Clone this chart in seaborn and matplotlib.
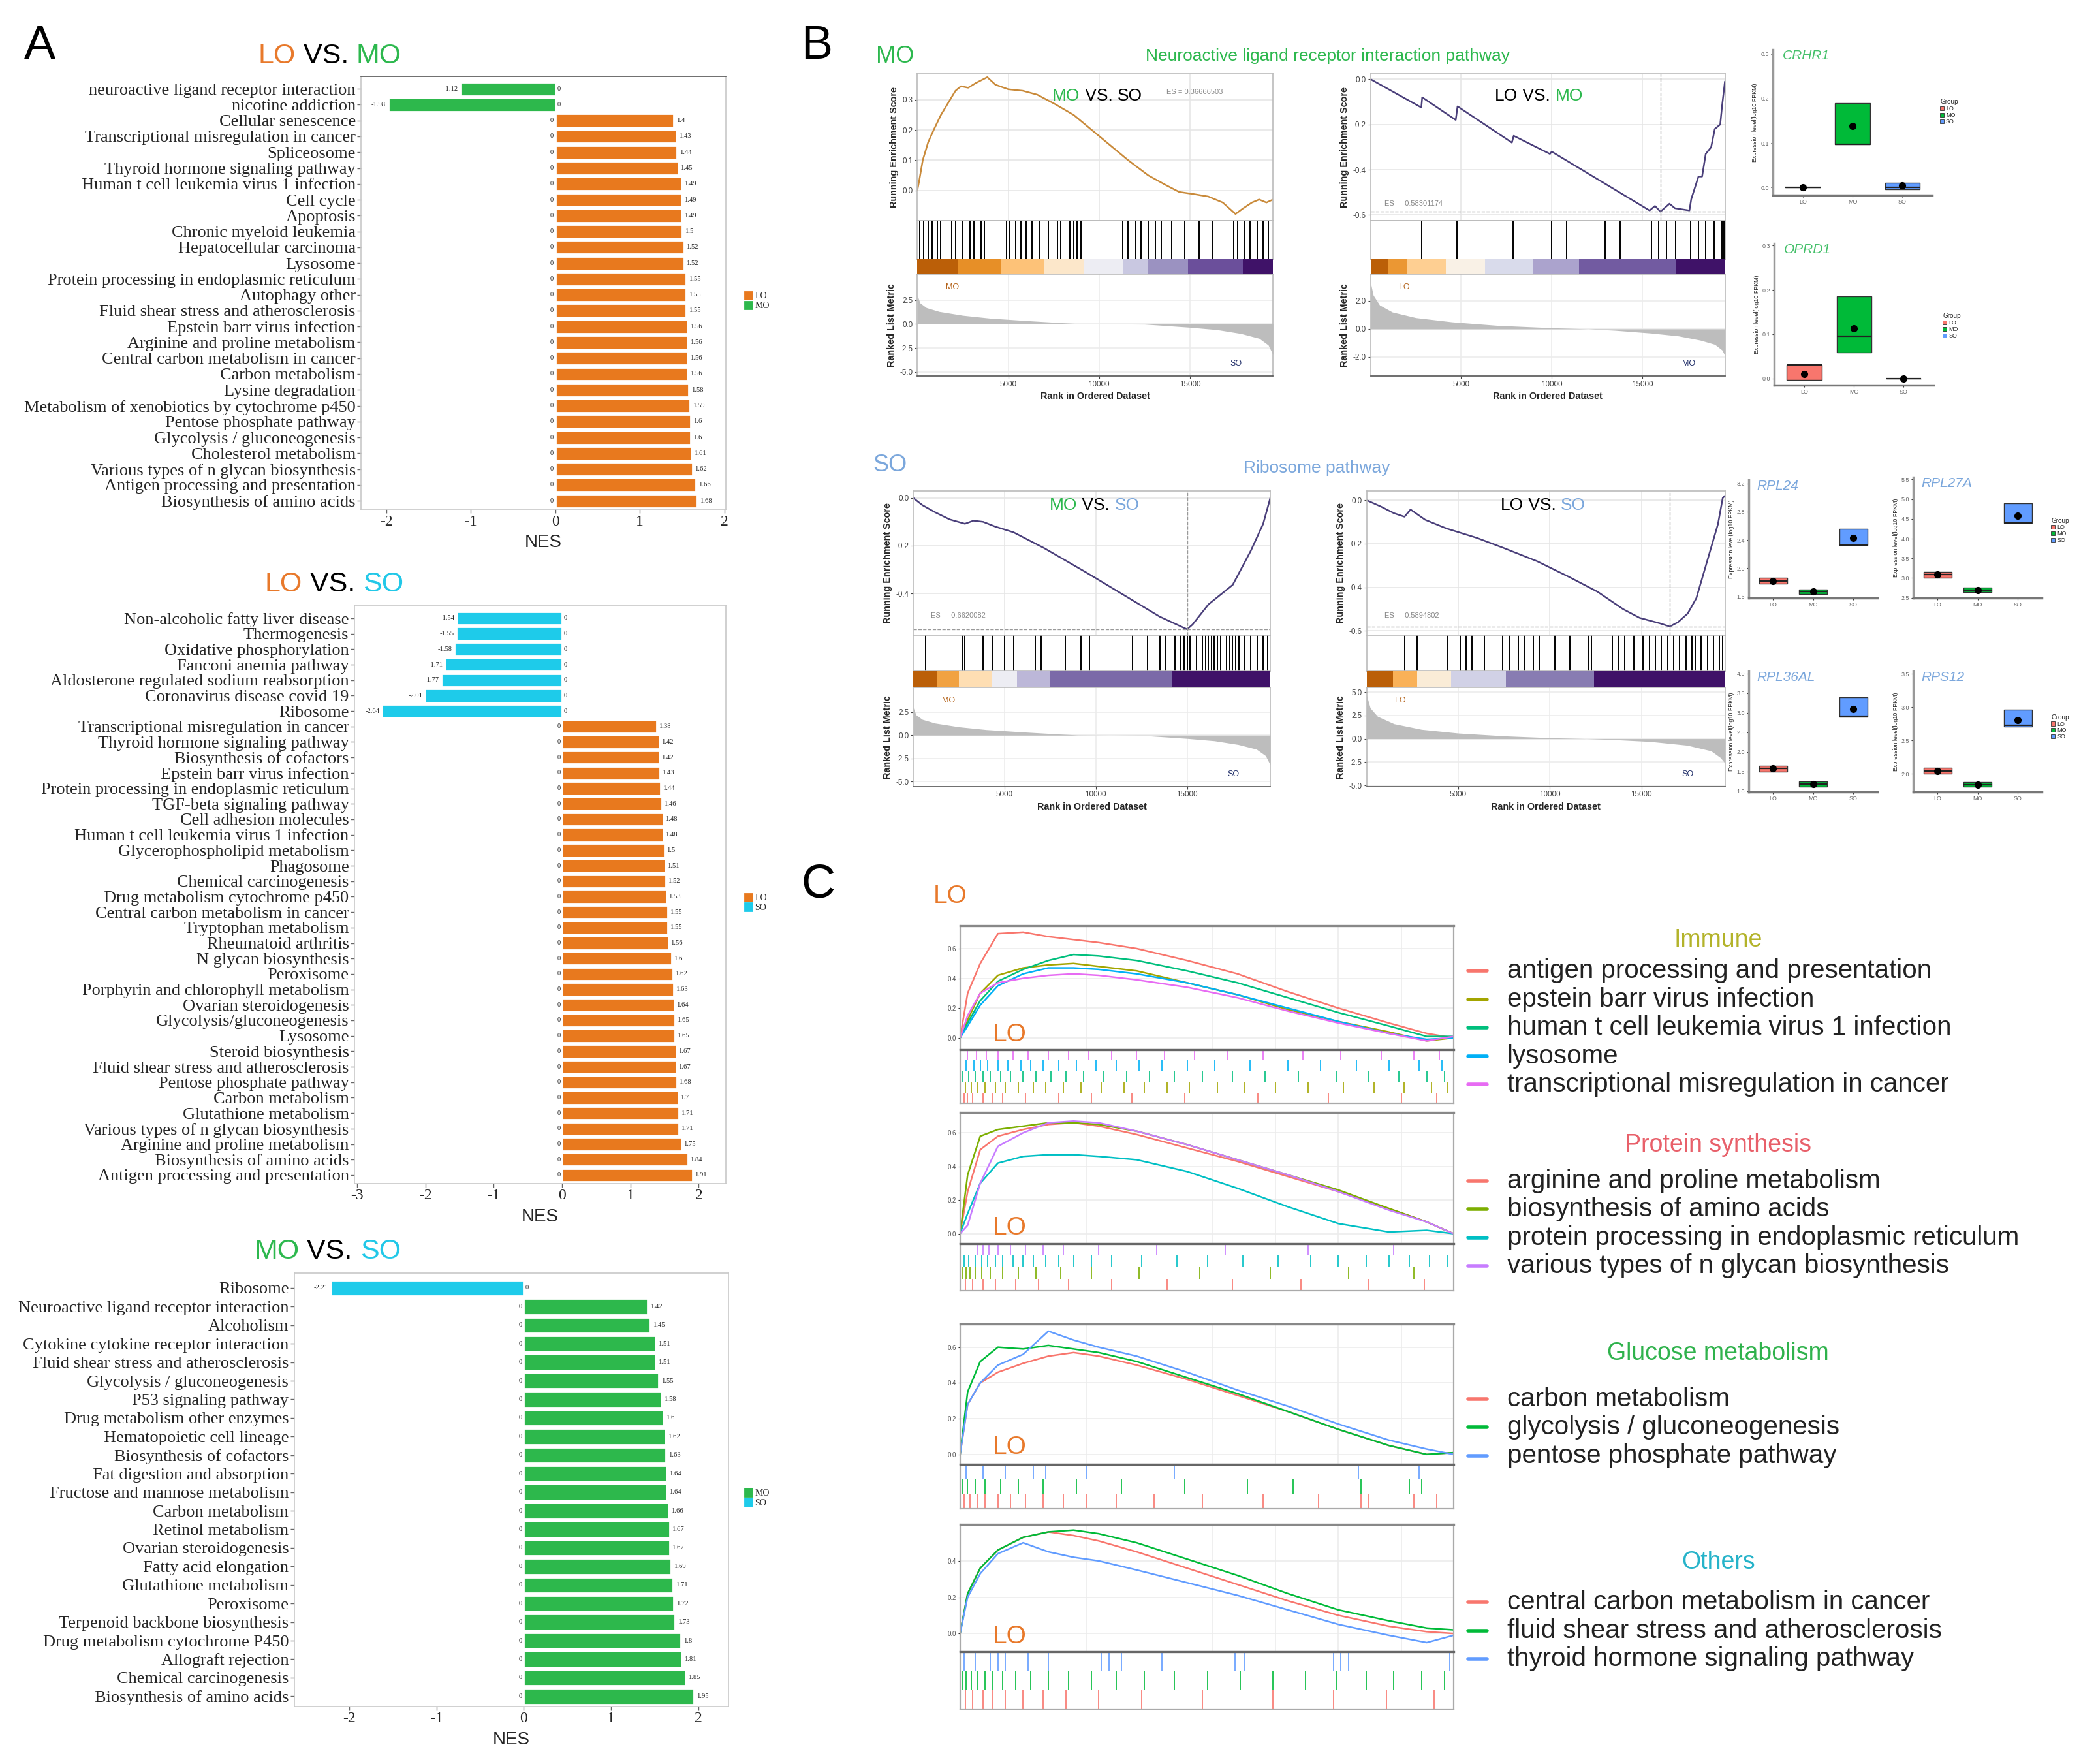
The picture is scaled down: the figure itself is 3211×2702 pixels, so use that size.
import numpy as np
import pandas as pd
import seaborn as sns
import matplotlib.pyplot as plt
from matplotlib.patches import Patch

#%% Panel A data: NES of enriched KEGG pathways
lo_mo_terms = ["neuroactive ligand receptor interaction", "nicotine addiction", "Cellular senescence",
               "Transcriptional misregulation in cancer", "Spliceosome", "Thyroid hormone signaling pathway",
               "Human t cell leukemia virus 1 infection", "Cell cycle", "Apoptosis", "Chronic myeloid leukemia",
               "Hepatocellular carcinoma", "Lysosome", "Protein processing in endoplasmic reticulum",
               "Autophagy other", "Fluid shear stress and atherosclerosis", "Epstein barr virus infection",
               "Arginine and proline metabolism", "Central carbon metabolism in cancer", "Carbon metabolism",
               "Lysine degradation", "Metabolism of xenobiotics by cytochrome p450", "Pentose phosphate pathway",
               "Glycolysis / gluconeogenesis", "Cholesterol metabolism", "Various types of n glycan biosynthesis",
               "Antigen processing and presentation", "Biosynthesis of amino acids"]
lo_mo_nes = [-1.12, -1.98, 1.4, 1.43, 1.44, 1.45, 1.49, 1.49, 1.49, 1.5, 1.52, 1.52, 1.55, 1.55, 1.55,
             1.56, 1.56, 1.56, 1.56, 1.58, 1.59, 1.6, 1.6, 1.61, 1.62, 1.66, 1.68]

lo_so_terms = ["Non-alcoholic fatty liver disease", "Thermogenesis", "Oxidative phosphorylation",
               "Fanconi anemia pathway", "Aldosterone regulated sodium reabsorption", "Coronavirus disease covid 19",
               "Ribosome", "Transcriptional misregulation in cancer", "Thyroid hormone signaling pathway",
               "Biosynthesis of cofactors", "Epstein barr virus infection",
               "Protein processing in endoplasmic reticulum", "TGF-beta signaling pathway", "Cell adhesion molecules",
               "Human t cell leukemia virus 1 infection", "Glycerophospholipid metabolism", "Phagosome",
               "Chemical carcinogenesis", "Drug metabolism cytochrome p450", "Central carbon metabolism in cancer",
               "Tryptophan metabolism", "Rheumatoid arthritis", "N glycan biosynthesis", "Peroxisome",
               "Porphyrin and chlorophyll metabolism", "Ovarian steroidogenesis", "Glycolysis/gluconeogenesis",
               "Lysosome", "Steroid biosynthesis", "Fluid shear stress and atherosclerosis",
               "Pentose phosphate pathway", "Carbon metabolism", "Glutathione metabolism",
               "Various types of n glycan biosynthesis", "Arginine and proline metabolism",
               "Biosynthesis of amino acids", "Antigen processing and presentation"]
lo_so_nes = [-1.54, -1.55, -1.58, -1.71, -1.77, -2.01, -2.64, 1.38, 1.42, 1.42, 1.43, 1.44, 1.46, 1.48,
             1.48, 1.5, 1.51, 1.52, 1.53, 1.55, 1.55, 1.56, 1.6, 1.62, 1.63, 1.64, 1.65, 1.65, 1.67, 1.67,
             1.68, 1.7, 1.71, 1.71, 1.75, 1.84, 1.91]

mo_so_terms = ["Ribosome", "Neuroactive ligand receptor interaction", "Alcoholism",
               "Cytokine cytokine receptor interaction", "Fluid shear stress and atherosclerosis",
               "Glycolysis / gluconeogenesis", "P53 signaling pathway", "Drug metabolism other enzymes",
               "Hematopoietic cell lineage", "Biosynthesis of cofactors", "Fat digestion and absorption",
               "Fructose and mannose metabolism", "Carbon metabolism", "Retinol metabolism",
               "Ovarian steroidogenesis", "Fatty acid elongation", "Glutathione metabolism", "Peroxisome",
               "Terpenoid backbone biosynthesis", "Drug metabolism cytochrome P450", "Allograft rejection",
               "Chemical carcinogenesis", "Biosynthesis of amino acids"]
mo_so_nes = [-2.21, 1.42, 1.45, 1.51, 1.51, 1.55, 1.58, 1.6, 1.62, 1.63, 1.64, 1.64, 1.66, 1.67, 1.67,
             1.69, 1.71, 1.72, 1.73, 1.8, 1.81, 1.85, 1.95]

#%% Panel B data: running enrichment scores
n_genes = 19560
neuro_mo_so_rank = [0, 100, 300, 600, 900, 1300, 1700, 2100, 2400, 2800, 3200, 3850, 4300, 5000, 5800, 6600,
                    7600, 8600, 9600, 10600, 11600, 12700, 13600, 14400, 15200, 16000, 16800, 17500, 17900,
                    18400, 18800, 19200, 19560]
neuro_mo_so_es = [0, 0.03, 0.10, 0.16, 0.20, 0.25, 0.29, 0.33, 0.345, 0.34, 0.355, 0.375, 0.35, 0.335, 0.33,
                  0.317, 0.285, 0.25, 0.20, 0.15, 0.10, 0.05, 0.02, -0.005, -0.012, -0.02, -0.04, -0.078,
                  -0.06, -0.04, -0.03, -0.04, -0.03]
neuro_mo_so_hits = [150, 350, 600, 800, 1100, 1300, 1900, 2100, 2500, 2900, 3100, 3500, 3700, 4900, 5100,
                    5400, 5700, 6000, 6300, 6700, 7200, 7700, 7900, 8400, 8600, 8800, 9000, 11300, 11600,
                    12000, 12300, 12700, 13100, 13400, 14000, 14700, 15500, 16200, 17400, 17600, 18000,
                    18300, 18700, 19000, 19300]

neuro_lo_mo_rank = [0, 2800, 2850, 4700, 4800, 7800, 7900, 9900, 10000, 15400, 15700, 16000, 16500, 16800,
                    17600, 17700, 18100, 18300, 18500, 18800, 19000, 19300, 19400, 19560]
neuro_lo_mo_es = [0, -0.125, -0.08, -0.18, -0.12, -0.28, -0.25, -0.33, -0.32, -0.58, -0.56, -0.585, -0.55,
                  -0.57, -0.58, -0.53, -0.43, -0.43, -0.33, -0.30, -0.22, -0.20, -0.12, -0.01]
neuro_lo_mo_hits = [2830, 4780, 7880, 9980, 10830, 12930, 13770, 15500, 15900, 16330, 16830, 17650, 18100,
                    18480, 18950, 19380, 19500]

ribo_mo_so_rank = [0, 500, 1200, 2000, 2830, 3300, 3830, 4500, 5500, 7170, 9500, 11500, 13500, 15000, 15300,
                   16170, 17500, 18500, 19170, 19560]
ribo_mo_so_es = [0, -0.03, -0.06, -0.09, -0.108, -0.095, -0.10, -0.12, -0.144, -0.21, -0.313, -0.405,
                 -0.497, -0.55, -0.53, -0.446, -0.364, -0.22, -0.108, 0.0]
ribo_mo_so_hits = [670, 2670, 2830, 3830, 4330, 5000, 5500, 6670, 7000, 8330, 9170, 9670, 12000, 12830,
                   13500, 13830, 14330, 14670, 14830, 15000, 15170, 15500, 15830, 16000, 16170, 16330, 16500,
                   16670, 16830, 17170, 17330, 17500, 17670, 17830, 18170, 18500, 18830, 19170, 19400]

ribo_lo_so_rank = [0, 800, 1500, 2070, 2400, 3200, 4370, 6020, 7500, 9300, 11000, 12600, 14000, 14900,
                   16000, 16550, 17000, 17530, 18000, 18520, 19180, 19440, 19560]
ribo_lo_so_es = [0, -0.03, -0.06, -0.076, -0.043, -0.09, -0.13, -0.173, -0.22, -0.28, -0.35, -0.42, -0.50,
                 -0.54, -0.565, -0.58, -0.56, -0.52, -0.45, -0.30, -0.11, 0.01, 0.02]
ribo_lo_so_hits = [2100, 2770, 4430, 5100, 5430, 5770, 6430, 7430, 7770, 8270, 8600, 9100, 9430, 10270,
                   11100, 12100, 12270, 13430, 13770, 14100, 14600, 15100, 15430, 15770, 16100, 16430,
                   16770, 17100, 17430, 17770, 17930, 18270, 18600, 18930, 19270, 19450]

# ranked list metric
metric_mo_so_rank = [0, 150, 500, 1200, 2500, 4000, 6000, 8000, 9000, 12500, 13500, 15000, 16500, 17800,
                     18800, 19300, 19560]
metric_mo_so_val = [3.0, 2.2, 1.7, 1.3, 0.9, 0.6, 0.35, 0.12, 0.02, -0.02, -0.15, -0.35, -0.6, -1.0, -1.5,
                    -2.2, -3.2]
metric_lo_mo_rank = [0, 150, 500, 1200, 2500, 4500, 7000, 10000, 12000, 13500, 15500, 17000, 18200, 19000,
                     19400, 19560]
metric_lo_mo_val = [3.3, 2.4, 1.7, 1.2, 0.8, 0.5, 0.25, 0.08, 0.0, -0.1, -0.3, -0.5, -0.8, -1.1, -1.5, -1.9]
metric_lo_so_rank = [0, 200, 600, 1500, 3000, 5000, 7500, 10000, 12000, 13500, 15500, 17500, 18800, 19300,
                     19560]
metric_lo_so_val = [4.7, 3.3, 2.4, 1.6, 1.0, 0.6, 0.3, 0.1, 0.0, -0.1, -0.3, -0.7, -1.3, -2.0, -2.6]

# colour band boundaries (ranks)
band_neuro_mo_so = [0, 2230, 4600, 6950, 9150, 11300, 12700, 14900, 17900, 19560]
band_neuro_lo_mo = [0, 1000, 2000, 4170, 6330, 9000, 11500, 16830, 19560]
band_ribo_mo_so = [0, 1330, 2500, 4330, 5670, 7500, 14170, 19560]
band_ribo_lo_so = [0, 1430, 2770, 4600, 7600, 12430, 19560]

# boxplot summaries (LO, MO, SO)
groups = ["LO", "MO", "SO"]
crhr1_q1, crhr1_med, crhr1_q3, crhr1_mean = [0, 0.097, -0.003], [0, 0.097, 0.0], [0, 0.189, 0.011], [0, 0.139, 0.005]
oprd1_q1, oprd1_med, oprd1_q3, oprd1_mean = [-0.003, 0.059, 0], [0.031, 0.096, 0], [0.031, 0.185, 0], [0.01, 0.113, 0]
rpl24_q1, rpl24_med, rpl24_q3, rpl24_mean = [1.78, 1.635, 2.33], [1.82, 1.667, 2.33], [1.86, 1.697, 2.56], [1.82, 1.67, 2.43]
rpl27a_q1, rpl27a_med, rpl27a_q3, rpl27a_mean = [3.0, 2.64, 4.4], [3.09, 2.7, 4.4], [3.16, 2.76, 4.9], [3.09, 2.7, 4.58]
rpl36al_q1, rpl36al_med, rpl36al_q3, rpl36al_mean = [1.49, 1.11, 2.9], [1.58, 1.175, 2.92], [1.65, 1.24, 3.4], [1.58, 1.175, 3.09]
rps12_q1, rps12_med, rps12_q3, rps12_mean = [2.0, 1.808, 2.71], [2.046, 1.838, 2.73], [2.088, 1.873, 2.96], [2.046, 1.838, 2.81]

#%% Panel C data: running ES of LO-enriched pathways on a shared rank grid
c_rank = [0, 300, 800, 1500, 2500, 3500, 4500, 5500, 7000, 9000, 11000, 13000, 15000, 17000, 18500, 19560]
immune_names = ["antigen processing and presentation", "epstein barr virus infection",
                "human t cell leukemia virus 1 infection", "lysosome", "transcriptional misregulation in cancer"]
antigen_es = [0, 0.30, 0.50, 0.70, 0.71, 0.68, 0.66, 0.64, 0.60, 0.52, 0.43, 0.31, 0.20, 0.10, 0.03, 0.0]
epstein_es = [0, 0.12, 0.30, 0.42, 0.47, 0.49, 0.50, 0.48, 0.45, 0.37, 0.29, 0.19, 0.11, 0.04, -0.02, 0.0]
htlv_es = [0, 0.10, 0.25, 0.38, 0.46, 0.52, 0.56, 0.55, 0.52, 0.45, 0.37, 0.27, 0.17, 0.08, 0.01, 0.01]
lysosome_es = [0, 0.08, 0.22, 0.35, 0.43, 0.47, 0.47, 0.46, 0.43, 0.37, 0.29, 0.20, 0.11, 0.03, -0.01, 0.0]
transcr_es = [0, 0.15, 0.30, 0.37, 0.40, 0.42, 0.43, 0.42, 0.39, 0.34, 0.27, 0.18, 0.10, 0.03, -0.02, 0.01]
antigen_hits = [150, 300, 500, 900, 1300, 1700, 2600, 3900, 5200, 6800, 8900, 11800, 14600, 17500, 18900]
epstein_hits = [200, 450, 700, 1000, 1400, 1800, 2300, 2900, 3400, 4100, 4800, 5600, 6500, 7300, 8200, 9100,
                10200, 11300, 12500, 13800, 15200, 16400, 17600, 18700, 19300]
htlv_hits = [100, 350, 600, 900, 1200, 1600, 2000, 2500, 3000, 3600, 4200, 4900, 5700, 6600, 7500, 8500,
             9600, 10800, 12100, 13400, 14900, 16200, 17400, 18500, 19200]
lysosome_hits = [250, 550, 800, 1100, 1500, 1900, 2400, 2800, 3300, 3900, 4600, 5400, 6200, 7100, 8000, 9000,
                 10100, 11500, 13000, 14300, 15700, 17000, 18200, 19100]
transcr_hits = [300, 650, 1050, 1500, 2100, 2700, 3500, 4300, 5100, 6000, 7000, 8100, 9300, 10600, 12000,
                13600, 15100, 16700, 18000, 19000]

protein_names = ["arginine and proline metabolism", "biosynthesis of amino acids",
                 "protein processing in endoplasmic reticulum", "various types of n glycan biosynthesis"]
arginine_es = [0, 0.25, 0.50, 0.58, 0.62, 0.65, 0.66, 0.64, 0.59, 0.51, 0.43, 0.34, 0.25, 0.15, 0.07, 0.0]
aa_biosyn_es = [0, 0.35, 0.58, 0.62, 0.64, 0.66, 0.66, 0.65, 0.61, 0.53, 0.44, 0.35, 0.26, 0.15, 0.07, 0.0]
er_proc_es = [0, 0.12, 0.30, 0.42, 0.46, 0.47, 0.47, 0.46, 0.44, 0.37, 0.27, 0.16, 0.06, 0.01, 0.02, 0.0]
nglycan_es = [0, 0.05, 0.30, 0.52, 0.60, 0.66, 0.67, 0.66, 0.61, 0.53, 0.44, 0.35, 0.25, 0.14, 0.07, 0.0]
arginine_hits = [200, 500, 900, 1400, 2200, 3100, 4300, 6000, 8200, 10800, 13500, 16200, 18400]
aa_biosyn_hits = [100, 250, 400, 600, 850, 1200, 1700, 2300, 3000, 4000, 5200, 7100, 9500, 12300, 15400, 18000]
er_proc_hits = [150, 350, 600, 850, 1100, 1400, 1700, 2100, 2500, 2900, 3400, 3900, 4500, 5200, 6000, 7200,
                8600, 9800, 11200, 12600, 13900, 15000, 16100, 17000, 17800, 18600, 19300]
nglycan_hits = [700, 900, 1150, 1500, 2000, 2600, 3300, 4100, 5500, 7800, 10500, 13800, 17200]

glucose_names = ["carbon metabolism", "glycolysis / gluconeogenesis", "pentose phosphate pathway"]
carbon_es = [0, 0.28, 0.40, 0.46, 0.51, 0.55, 0.57, 0.55, 0.50, 0.42, 0.33, 0.24, 0.14, 0.05, 0.0, 0.01]
glyco_es = [0, 0.35, 0.52, 0.60, 0.59, 0.61, 0.59, 0.57, 0.52, 0.43, 0.34, 0.24, 0.14, 0.05, 0.0, 0.01]
pentose_es = [0, 0.28, 0.40, 0.50, 0.56, 0.69, 0.64, 0.60, 0.55, 0.46, 0.36, 0.27, 0.17, 0.08, 0.03, 0.0]
carbon_hits = [150, 400, 700, 1000, 1500, 2000, 2600, 3300, 4100, 5000, 6200, 7700, 9600, 12000, 14200,
               15900, 16200, 18000, 18900]
glyco_hits = [100, 300, 600, 1000, 1600, 2300, 3300, 4600, 6400, 8900, 11400, 13200, 15900, 17800, 18300]
pentose_hits = [250, 900, 1800, 2900, 3400, 5000, 8500, 15800, 18200]

others_names = ["central carbon metabolism in cancer", "fluid shear stress and atherosclerosis",
                "thyroid hormone signaling pathway"]
central_es = [0, 0.22, 0.36, 0.46, 0.53, 0.56, 0.54, 0.51, 0.45, 0.36, 0.27, 0.18, 0.10, 0.04, 0.01, 0.0]
fluid_es = [0, 0.22, 0.36, 0.46, 0.53, 0.56, 0.57, 0.55, 0.50, 0.41, 0.32, 0.22, 0.13, 0.07, 0.03, 0.02]
thyroid_es = [0, 0.20, 0.33, 0.44, 0.50, 0.45, 0.42, 0.40, 0.35, 0.28, 0.21, 0.13, 0.05, -0.01, -0.05, -0.01]
central_hits = [200, 500, 900, 1300, 1800, 2500, 3300, 4200, 5500, 7200, 9600, 12400, 14800, 16900, 18800]
fluid_hits = [100, 250, 450, 700, 1000, 1300, 1700, 2200, 2800, 3500, 4300, 5200, 6200, 7300, 8500, 9800,
              11100, 12400, 13700, 14900, 16100, 17200, 18300, 19200]
thyroid_hits = [150, 600, 1200, 1500, 1800, 2700, 3500, 5600, 5900, 6400, 8000, 10900, 11300, 14800, 15100,
                15400, 19400]

#%% Style
sns.set_theme(style="white")
plt.rcParams['font.family'] = ['Liberation Sans', 'DejaVu Sans']
plt.rcParams['axes.unicode_minus'] = False

LO_C, MO_C, SO_C, SO_B = '#E8792B', '#2DB84E', '#22C8E8', '#7BA7DC'
bar_colors = {"LO": '#E8791E', "MO": '#2DB84C', "SO": '#1ECBEA'}
box_colors = ['#F8766D', '#00BA38', '#619CFF']
hue5 = ['#F8766D', '#A3A500', '#00BF7D', '#00B0F6', '#E76BF3']
hue4 = ['#F8766D', '#7CAE00', '#00BFC4', '#C77CFF']
hue3 = ['#F8766D', '#00BA38', '#619CFF']
band_cmap = plt.get_cmap('PuOr')

W, H = 1568, 1319
fig = plt.figure(figsize=(3212 / 200, 2702 / 200), dpi=200)


def rect(x0, y0, x1, y1):
    return [x0 / W, 1 - y1 / H, (x1 - x0) / W, (y1 - y0) / H]


def gray_spines(ax, color='#c8c8c8', lw=0.6):
    for s in ax.spines.values():
        s.set_color(color)
        s.set_linewidth(lw)


#%% Panel A
def nes_panel(r, terms, nes, up, down, xlim, xticks, legend_y):
    ax = fig.add_axes(rect(*r))
    df = pd.DataFrame({"term": terms, "NES": nes})
    df["group"] = np.where(df["NES"] > 0, up, down)
    sns.barplot(data=df, x="NES", y="term", hue="group", order=terms, palette=bar_colors,
                dodge=False, width=0.86, saturation=1, errorbar=None, legend=False, ax=ax)
    for i, v in enumerate(nes):
        if v < 0:
            ax.text(v - 0.03, i, f"{v:g}", ha='right', va='center', fontsize=3.8, family='Liberation Serif')
            ax.text(0.02, i, "0", ha='left', va='center', fontsize=3.8, family='Liberation Serif')
        else:
            ax.text(-0.02, i, "0", ha='right', va='center', fontsize=3.8, family='Liberation Serif')
            ax.text(v + 0.03, i, f"{v:g}", ha='left', va='center', fontsize=3.8, family='Liberation Serif')
    ax.set_xlim(xlim)
    ax.set_ylim(len(terms) - 0.45, -0.8)
    ax.set_xticks(xticks)
    ax.set_xticklabels([str(t) for t in xticks], family='Liberation Serif', fontsize=8.5)
    ax.set_yticks(range(len(terms)))
    ax.set_yticklabels(terms, family='Liberation Serif', fontsize=9.5)
    ax.tick_params(axis='both', left=True, bottom=True, length=2, width=0.5, pad=1, color='#666')
    ax.set_ylabel('')
    ax.set_xlabel('NES', fontsize=10, labelpad=3)
    gray_spines(ax)
    fig.legend(handles=[Patch(color=bar_colors[up], label=up), Patch(color=bar_colors[down], label=down)],
               loc='center left', bbox_to_anchor=(551 / W, 1 - legend_y / H), frameon=False,
               prop={'family': 'Liberation Serif', 'size': 5}, handlelength=0.8, handleheight=0.9,
               handletextpad=0.3, labelspacing=0.1)
    return ax


a1 = nes_panel((270, 57, 543, 381), lo_mo_terms, lo_mo_nes, "LO", "MO", (-2.3, 2.02), [-2, -1, 0, 1, 2], 225)
a1.spines['top'].set_color('#555')
nes_panel((265, 453, 543, 885), lo_so_terms, lo_so_nes, "LO", "SO", (-3.04, 2.4), [-3, -2, -1, 0, 1, 2], 675)
nes_panel((220, 952, 545, 1276), mo_so_terms, mo_so_nes, "MO", "SO", (-2.63, 2.35), [-2, -1, 0, 1, 2], 1120)


#%% Panel B: GSEA plots
def gsea_panel(x0, x1, ys, rank, es, hits, edges, m_rank, m_val, es_lim, es_ticks, m_lim, m_ticks,
               color, es_label, es_xy, m_labels, dashed):
    y_top, y_es, y_rug, y_band, y_bot = ys
    ax1 = fig.add_axes(rect(x0, y_top, x1, y_es))
    ax1.plot(rank, es, color=color, lw=0.9)
    if dashed:
        k = int(np.argmin(es))
        ax1.axvline(rank[k], ls='--', color='#999', lw=0.5)
        ax1.axhline(es[k], ls='--', color='#999', lw=0.5)
    ax1.set_xlim(0, n_genes)
    ax1.set_ylim(es_lim)
    ax1.set_yticks(es_ticks)
    ax1.set_yticklabels([f"{t:.1f}" for t in es_ticks], fontsize=4.2)
    ax1.set_xticks([5000, 10000, 15000])
    ax1.set_xticklabels([])
    ax1.grid(True, color='#e6e6e6', lw=0.6)
    ax1.tick_params(left=True, length=1.5, width=0.4, pad=1, colors='#444')
    ax1.set_ylabel('Running Enrichment Score', fontsize=5.2, fontweight='bold', labelpad=2)
    ax1.text(es_xy[0], es_xy[1], es_label, transform=ax1.transAxes, fontsize=4, color='#888')
    gray_spines(ax1, '#bbbbbb')

    ax2 = fig.add_axes(rect(x0, y_es, x1, y_rug))
    ax2.vlines(hits, 0, 1, color='black', lw=0.7)
    ax2.set_xlim(0, n_genes)
    ax2.set_ylim(0, 1)
    ax2.set_xticks([])
    ax2.set_yticks([])
    gray_spines(ax2, '#bbbbbb')

    ax3 = fig.add_axes(rect(x0, y_rug, x1, y_band))
    pos = np.linspace(0.12, 0.95, len(edges) - 1)
    for i in range(len(edges) - 1):
        ax3.axvspan(edges[i], edges[i + 1], color=band_cmap(pos[i]), lw=0)
    ax3.set_xlim(0, n_genes)
    ax3.axis('off')

    ax4 = fig.add_axes(rect(x0, y_band, x1, y_bot))
    ax4.fill_between(m_rank, 0, m_val, color='#bdbdbd', lw=0)
    ax4.set_xlim(0, n_genes)
    ax4.set_ylim(m_lim)
    ax4.set_yticks(m_ticks)
    ax4.set_yticklabels([f"{t:.1f}" for t in m_ticks], fontsize=4.2)
    ax4.set_xticks([5000, 10000, 15000])
    ax4.set_xticklabels(['5000', '10000', '15000'], fontsize=4.2)
    ax4.grid(True, color='#ececec', lw=0.6)
    ax4.tick_params(left=True, bottom=True, length=1.5, width=0.4, pad=1, colors='#444')
    ax4.set_ylabel('Ranked List Metric', fontsize=5.2, fontweight='bold', labelpad=2)
    ax4.set_xlabel('Rank in Ordered Dataset', fontsize=5.2, fontweight='bold', labelpad=2)
    ax4.text(0.08, 0.85, m_labels[0], transform=ax4.transAxes, fontsize=4.5, color='#b5651d')
    ax4.text(0.88, 0.1, m_labels[1], transform=ax4.transAxes, fontsize=4.5, color='#22306a')
    gray_spines(ax4, '#bbbbbb')
    ax4.spines['bottom'].set_color('#555')


row1 = (55, 165, 194, 205, 281)
row2 = (367, 475, 502, 514, 588)
gsea_panel(686, 952, row1, neuro_mo_so_rank, neuro_mo_so_es, neuro_mo_so_hits, band_neuro_mo_so,
           metric_mo_so_rank, metric_mo_so_val, (-0.1, 0.387), [0.0, 0.1, 0.2, 0.3], (-5.4, 5.2),
           [2.5, 0.0, -2.5, -5.0], '#C98A3A', 'ES = 0.36666503', (0.7, 0.86), ('MO', 'SO'), False)
gsea_panel(1025, 1290, row1, neuro_lo_mo_rank, neuro_lo_mo_es, neuro_lo_mo_hits, band_neuro_lo_mo,
           metric_lo_mo_rank, metric_lo_mo_val, (-0.625, 0.025), [0.0, -0.2, -0.4, -0.6], (-3.33, 3.9),
           [2.0, 0.0, -2.0], '#4A3F7A', 'ES = -0.58301174', (0.04, 0.1), ('LO', 'MO'), True)
gsea_panel(683, 950, row2, ribo_mo_so_rank, ribo_mo_so_es, ribo_mo_so_hits, band_ribo_mo_so,
           metric_mo_so_rank, metric_mo_so_val, (-0.575, 0.03), [0.0, -0.2, -0.4], (-5.5, 5.15),
           [2.5, 0.0, -2.5, -5.0], '#4A3F7A', 'ES = -0.6620082', (0.05, 0.12), ('MO', 'SO'), True)
gsea_panel(1022, 1290, row2, ribo_lo_so_rank, ribo_lo_so_es, ribo_lo_so_hits, band_ribo_lo_so,
           metric_lo_so_rank, metric_lo_so_val, (-0.62, 0.043), [0.0, -0.2, -0.4, -0.6], (-5.1, 5.5),
           [5.0, 2.5, 0.0, -2.5, -5.0], '#4A3F7A', 'ES = -0.5894802', (0.05, 0.12), ('LO', 'SO'), True)


#%% Panel B: expression boxplots
def box_panel(r, gene, q1, med, q3, mean, ylim, yticks, tcolor, legend_xy=None):
    ax = fig.add_axes(rect(*r))
    stats = [dict(label=g, q1=a, med=b, q3=c, whislo=a, whishi=c, mean=d, fliers=[])
             for g, a, b, c, d in zip(groups, q1, med, q3, mean)]
    bp = ax.bxp(stats, positions=[0, 1, 2], widths=0.7, patch_artist=True, showmeans=True,
                showcaps=False, showfliers=False, medianprops=dict(color='#222', lw=0.8),
                whiskerprops=dict(lw=0), meanprops=dict(marker='o', markerfacecolor='black',
                                                        markeredgecolor='black', markersize=3))
    for patch, c in zip(bp['boxes'], box_colors):
        patch.set_facecolor(c)
        patch.set_edgecolor('#333')
        patch.set_linewidth(0.5)
    ax.set_xlim(-0.6, 2.6)
    ax.set_ylim(ylim)
    ax.set_yticks(yticks)
    ax.set_yticklabels([f"{t:.1f}" for t in yticks], fontsize=3.2, color='#666')
    ax.set_xticklabels(groups, fontsize=3.2, color='#666')
    ax.tick_params(left=True, bottom=True, length=1.2, width=0.4, pad=1)
    ax.set_ylabel('Expression level(log10 FPKM)', fontsize=3.2, labelpad=1.5)
    ax.spines['top'].set_visible(False)
    ax.spines['right'].set_visible(False)
    ax.spines['left'].set_color('#999')
    ax.spines['bottom'].set_color('#777')
    ax.text(0.06, 1.0, gene, transform=ax.transAxes, style='italic', color=tcolor, fontsize=7.5, va='top')
    if legend_xy is not None:
        handles = [Patch(facecolor=c, edgecolor='#333', lw=0.3, label=g) for g, c in zip(groups, box_colors)]
        fig.legend(handles=handles, title='Group', loc='upper left',
                   bbox_to_anchor=(legend_xy[0] / W, 1 - legend_xy[1] / H), frameon=False,
                   fontsize=3.2, title_fontsize=3.6, handlelength=0.7, handleheight=0.7,
                   handletextpad=0.3, labelspacing=0.1, alignment='left')


box_panel((1326, 37, 1445, 146), 'CRHR1', crhr1_q1, crhr1_med, crhr1_q3, crhr1_mean,
          (-0.017, 0.31), [0.0, 0.1, 0.2, 0.3], '#45C06A', (1447, 70))
box_panel((1327, 182, 1446, 288), 'OPRD1', oprd1_q1, oprd1_med, oprd1_q3, oprd1_mean,
          (-0.015, 0.305), [0.0, 0.1, 0.2, 0.3], '#45C06A', (1449, 230))
box_panel((1308, 359, 1404, 447), 'RPL24', rpl24_q1, rpl24_med, rpl24_q3, rpl24_mean,
          (1.58, 3.25), [1.6, 2.0, 2.4, 2.8, 3.2], SO_B)
box_panel((1431, 357, 1527, 447), 'RPL27A', rpl27a_q1, rpl27a_med, rpl27a_q3, rpl27a_mean,
          (2.5, 5.55), [2.5, 3.0, 3.5, 4.0, 4.5, 5.0, 5.5], SO_B, (1530, 383))
box_panel((1308, 502, 1404, 592), 'RPL36AL', rpl36al_q1, rpl36al_med, rpl36al_q3, rpl36al_mean,
          (0.98, 4.06), [1.0, 1.5, 2.0, 2.5, 3.0, 3.5, 4.0], SO_B)
box_panel((1431, 502, 1527, 592), 'RPS12', rps12_q1, rps12_med, rps12_q3, rps12_mean,
          (1.73, 3.54), [2.0, 2.5, 3.0, 3.5], SO_B, (1530, 530))


#%% Panel C: multi-pathway running ES
def c_panel(x0, x1, y_top, y_es, y_bot, curves, colors, hits, es_lim, es_ticks):
    ax = fig.add_axes(rect(x0, y_top, x1, y_es))
    for es, c in zip(curves, colors):
        ax.plot(c_rank, es, color=c, lw=0.9)
    ax.set_xlim(0, n_genes)
    ax.set_ylim(es_lim)
    ax.set_yticks(es_ticks)
    ax.set_yticklabels([f"{t:.1f}" for t in es_ticks], fontsize=3.5, color='#555')
    ax.set_xticks([5000, 10000, 12500, 15000, 17500])
    ax.set_xticklabels([])
    ax.grid(True, color='#ececec', lw=0.6)
    ax.tick_params(left=True, length=1.2, width=0.4, pad=1)
    gray_spines(ax, '#aaaaaa', 0.8)
    ax.spines['top'].set_color('#888')
    ax.spines['top'].set_linewidth(1.2)
    ax.text(0.1, 0.12, 'LO', transform=ax.transAxes, color=LO_C, fontsize=14, ha='center', va='center')

    rug = fig.add_axes(rect(x0, y_es, x1, y_bot))
    for k, (h, c) in enumerate(zip(hits, colors)):
        rug.vlines(h, k, k + 1, color=c, lw=0.6)
    rug.set_xlim(0, n_genes)
    rug.set_ylim(0, len(hits))
    rug.set_xticks([])
    rug.set_yticks([])
    gray_spines(rug, '#aaaaaa', 0.8)
    rug.spines['top'].set_color('#666')
    rug.spines['top'].set_linewidth(1.2)


c_panel(718, 1087, 692, 785, 825, [antigen_es, epstein_es, htlv_es, lysosome_es, transcr_es], hue5,
        [antigen_hits, epstein_hits, htlv_hits, lysosome_hits, transcr_hits], (-0.08, 0.755), [0.0, 0.2, 0.4, 0.6])
c_panel(718, 1087, 832, 930, 965, [arginine_es, aa_biosyn_es, er_proc_es, nglycan_es], hue4,
        [arginine_hits, aa_biosyn_hits, er_proc_hits, nglycan_hits], (-0.06, 0.72), [0.0, 0.2, 0.4, 0.6])
c_panel(718, 1087, 990, 1095, 1128, [carbon_es, glyco_es, pentose_es], hue3,
        [carbon_hits, glyco_hits, pentose_hits], (-0.056, 0.73), [0.0, 0.2, 0.4, 0.6])
c_panel(718, 1087, 1140, 1235, 1278, [central_es, fluid_es, thyroid_es], hue3,
        [central_hits, fluid_hits, thyroid_hits], (-0.10, 0.60), [0.0, 0.2, 0.4])

#%% Overlay text in reference pixel coordinates
ov = fig.add_axes([0, 0, 1, 1])
ov.set_xlim(0, W)
ov.set_ylim(H, 0)
ov.axis('off')


def rainbow(x, y, parts, size):
    t = ov.text(x, y, parts[0][0], color=parts[0][1], fontsize=size, va='center', ha='left')
    for s, c in parts[1:]:
        t = ov.annotate(s, xy=(1, 0), xycoords=t, va='bottom', ha='left', color=c, fontsize=size)


for letter, x, y in [('A', 18, 35), ('B', 599, 35), ('C', 599, 662)]:
    ov.text(x, y, letter, fontsize=26, va='center', ha='left', color='black')

rainbow(193, 42, [('LO', LO_C), (' VS. ', 'black'), ('MO', MO_C)], 15.5)
rainbow(198, 437, [('LO', LO_C), (' VS. ', 'black'), ('SO', SO_C)], 15.5)
rainbow(190, 936, [('MO', MO_C), (' VS. ', 'black'), ('SO', SO_C)], 15.5)

ov.text(655, 42, 'MO', color=MO_C, fontsize=13, va='center')
ov.text(993, 42, 'Neuroactive ligand receptor interaction pathway', color=MO_C, fontsize=9.5,
        va='center', ha='center')
ov.text(653, 348, 'SO', color=SO_B, fontsize=13, va='center')
ov.text(985, 350, 'Ribosome pathway', color=SO_B, fontsize=9.5, va='center', ha='center')
rainbow(787, 72, [('MO', MO_C), (' VS. ', 'black'), ('SO', 'black')], 9.5)
rainbow(1118, 72, [('LO', 'black'), (' VS. ', 'black'), ('MO', MO_C)], 9.5)
rainbow(785, 378, [('MO', MO_C), (' VS. ', 'black'), ('SO', SO_B)], 9.5)
rainbow(1122, 378, [('LO', 'black'), (' VS. ', 'black'), ('SO', SO_B)], 9.5)

ov.text(698, 670, 'LO', color=LO_C, fontsize=14, va='center')

legend_blocks = [('Immune', '#B3B32A', 703, immune_names, hue5, 726),
                 ('Protein synthesis', '#E8606A', 856, protein_names, hue4, 883),
                 ('Glucose metabolism', '#2FB24C', 1012, glucose_names, hue3, 1046),
                 ('Others', '#26B3C9', 1168, others_names, hue3, 1198)]
for title, tcol, ty, names, cols, y0 in legend_blocks:
    ov.text(1285, ty, title, color=tcol, fontsize=13.5, ha='center', va='center')
    for i, (name, c) in enumerate(zip(names, cols)):
        yy = y0 + i * 21.2
        ov.plot([1098, 1112], [yy, yy], color=c, lw=2)
        ov.text(1127, yy, name, color='#222', fontsize=14.5, va='center', ha='left')

fig.savefig('out.png', dpi=200, facecolor='white')
